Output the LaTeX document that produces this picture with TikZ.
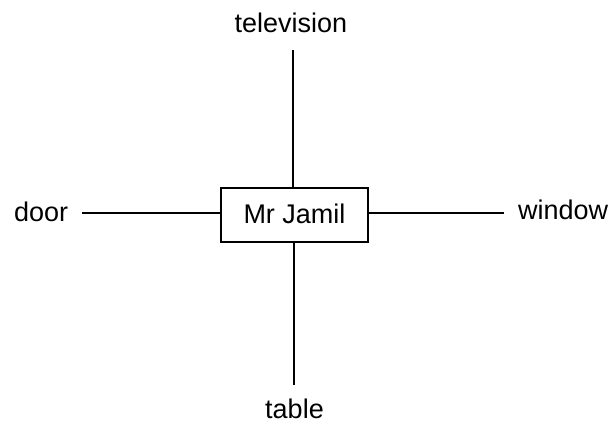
\documentclass[tikz,border=0pt]{standalone}
\usepackage{fontspec}
\setmainfont{Liberation Sans}
\begin{document}
\begin{tikzpicture}[x=1pt,y=-1pt,
  lbl/.style={inner sep=0pt,anchor=base,font=\fontsize{27}{32}\selectfont},
  mainbox/.style={draw,line width=1.4pt,minimum width=147pt,minimum height=54pt,inner sep=0pt,font=\fontsize{27}{32}\selectfont},
  conn/.style={line width=1.3pt}]
\useasboundingbox (0,0) rectangle (613,423);
\node[mainbox] (box) at (294.5,215) {};
\node[lbl] (name) at (294.5,223) {Mr Jamil};
\node[lbl] (tv) at (291,32) {television};
\node[lbl] (table) at (294.5,418) {table};
\node[lbl,anchor=base west] (door) at (14,221) {door};
\node[lbl,anchor=base west] (window) at (518,219) {window};
\coordinate (tt) at (293,50);
\coordinate (tb) at (294,385);
\coordinate (dl) at (82,213);
\coordinate (wr) at (504,213);
\draw[conn] (tt) -- (tt |- box.north);
\draw[conn] (tb) -- (tb |- box.south);
\draw[conn] (dl) -- (dl -| box.west);
\draw[conn] (wr) -- (wr -| box.east);
\end{tikzpicture}
\end{document}
